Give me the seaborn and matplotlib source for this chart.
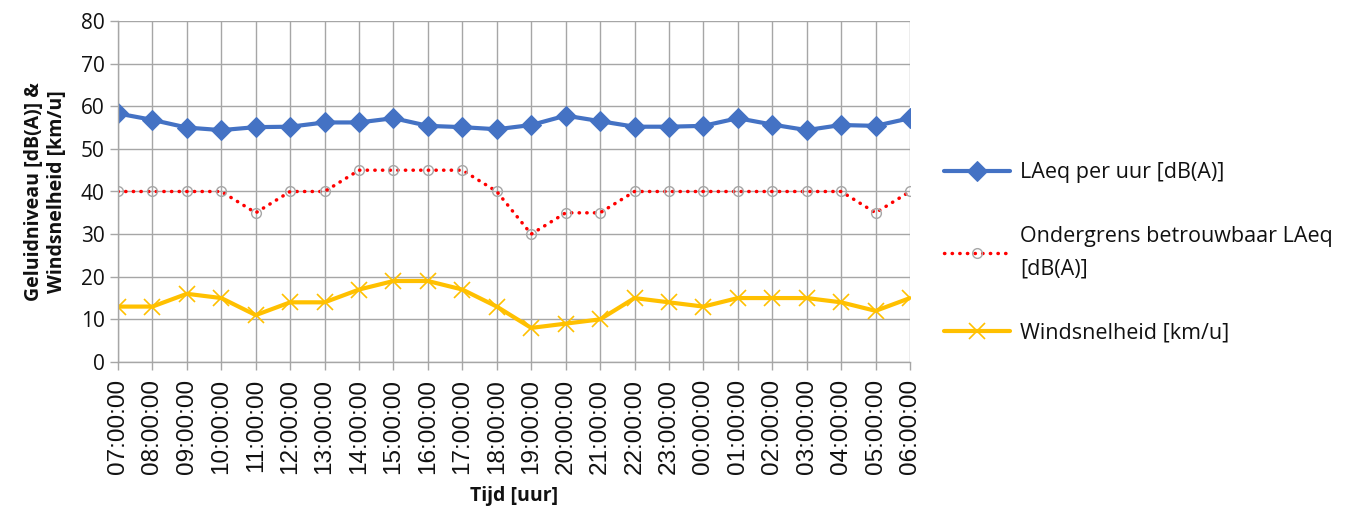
import numpy as np
import pandas as pd
import matplotlib
matplotlib.use('Agg')
import matplotlib.pyplot as plt
import seaborn as sns

# tijdstippen (uur)
uren = ['07:00:00', '08:00:00', '09:00:00', '10:00:00', '11:00:00', '12:00:00',
        '13:00:00', '14:00:00', '15:00:00', '16:00:00', '17:00:00', '18:00:00',
        '19:00:00', '20:00:00', '21:00:00', '22:00:00', '23:00:00', '00:00:00',
        '01:00:00', '02:00:00', '03:00:00', '04:00:00', '05:00:00', '06:00:00']

laeq = [58.3, 56.8, 55.0, 54.4, 55.1, 55.2, 56.2, 56.2, 57.2, 55.4, 55.1, 54.6,
        55.6, 57.8, 56.5, 55.2, 55.2, 55.4, 57.2, 55.7, 54.4, 55.6, 55.4, 57.2]
ondergrens = [40, 40, 40, 40, 35, 40, 40, 45, 45, 45, 45, 40,
              30, 35, 35, 40, 40, 40, 40, 40, 40, 40, 35, 40]
wind = [13, 13, 16, 15, 11, 14, 14, 17, 19, 19, 17, 13,
        8, 9, 10, 15, 14, 13, 15, 15, 15, 14, 12, 15]

labels = ['LAeq per uur [dB(A)]', 'Ondergrens betrouwbaar LAeq\n[dB(A)]', 'Windsnelheid [km/u]']

df = pd.DataFrame({'pos': np.arange(len(uren)), 'uur': uren,
                   'laeq': laeq, 'ondergrens': ondergrens, 'wind': wind})

sns.set_theme(style='white')
plt.rcParams['font.family'] = ['Open Sans', 'DejaVu Sans']
plt.rcParams['text.color'] = '#111111'
plt.rcParams['axes.labelcolor'] = '#111111'

fig = plt.figure(figsize=(13.7, 5.11), dpi=100)
ax = fig.add_axes([118 / 1370, 149 / 511, 792 / 1370, 341 / 511])

sns.lineplot(data=df, x='pos', y='laeq', ax=ax, color='#4472C4', lw=3,
             marker='D', markersize=10, markeredgecolor='#4472C4', label=labels[0])
sns.lineplot(data=df, x='pos', y='ondergrens', ax=ax, color='#FF0000', lw=2.5,
             linestyle=(0, (0.1, 2.1)), dash_capstyle='round',
             marker='o', markersize=7, markerfacecolor='none',
             markeredgecolor='#A6A6A6', markeredgewidth=1, label=labels[1])
sns.lineplot(data=df, x='pos', y='wind', ax=ax, color='#FFC000', lw=3,
             marker='x', markersize=12, markeredgewidth=1.2,
             markeredgecolor='#FFC000', label=labels[2])

ax.set_xlim(0, len(uren) - 1)
ax.set_ylim(0, 80)
ax.set_yticks(range(0, 81, 10))
ax.set_xticks(df['pos'])
ax.set_xticklabels(uren, rotation=90, family=['Liberation Sans'], fontsize=17.5)
ax.tick_params(axis='y', labelsize=15, colors='#A6A6A6', labelcolor='#111111',
               length=6, width=1, direction='out', left=True)
ax.tick_params(axis='x', length=6, width=1, colors='#A6A6A6', labelcolor='#111111',
               direction='out', bottom=True, pad=6)
ax.grid(True, color='#A6A6A6', lw=1)
for s in ['top', 'right']:
    ax.spines[s].set_visible(False)
for s in ['left', 'bottom']:
    ax.spines[s].set_color('#A6A6A6')
    ax.spines[s].set_linewidth(1)

ax.set_xlabel('Tijd [uur]', fontsize=14, fontweight='bold', labelpad=9)
ax.set_ylabel('Geluidniveau [dB(A)] &\nWindsnelheid [km/u]', fontsize=14,
              fontweight='bold', labelpad=10)

leg = ax.legend(loc='center left', bbox_to_anchor=(1.018, 0.32), frameon=False,
                fontsize=15.5, handlelength=3.1, labelspacing=2.0, handletextpad=0.45)
for t in leg.get_texts():
    t.set_linespacing(1.7)

fig.savefig('out.png', dpi=100)
